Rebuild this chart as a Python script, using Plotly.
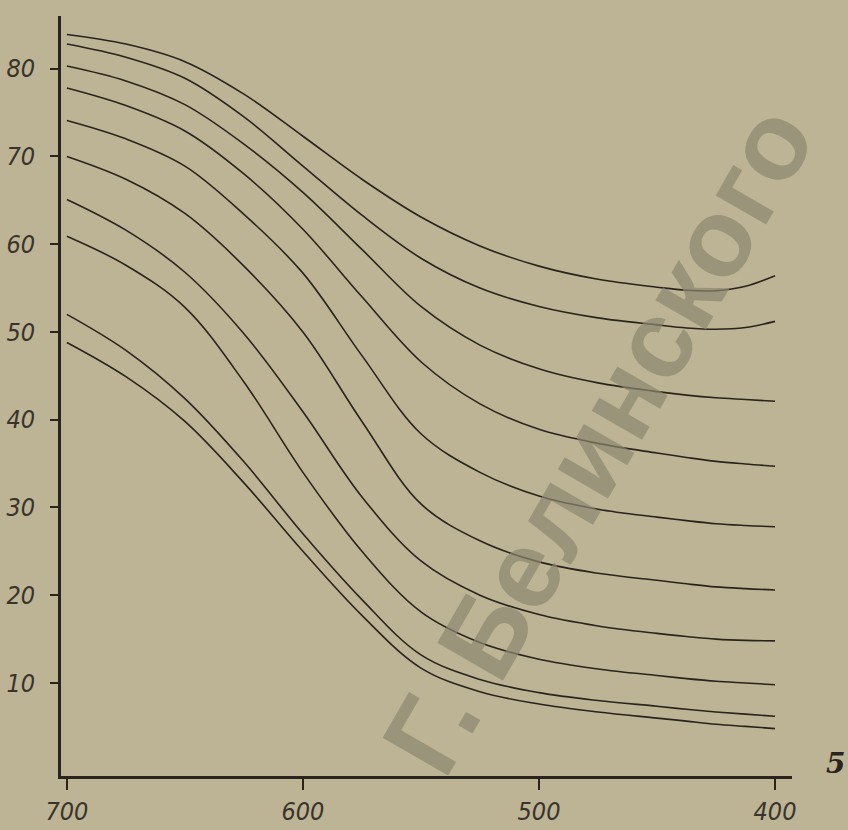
import plotly.graph_objects as go

# wavelength (nm)
wavelength = [700, 675, 650, 625, 600, 575, 550, 525, 500, 475, 450, 437.5, 425, 412.5, 400]

curve_1 = [83.9, 82.8, 80.8, 77.1, 72.3, 67.4, 63.1, 59.8, 57.5, 56.0, 55.1, 54.75, 54.7, 55.2, 56.4]
curve_2 = [82.8, 81.3, 78.9, 74.5, 68.9, 63.3, 58.4, 55.0, 52.9, 51.6, 50.8, 50.45, 50.3, 50.5, 51.2]
curve_3 = [80.3, 78.6, 75.9, 71.4, 65.9, 59.4, 52.9, 48.5, 45.8, 44.2, 43.2, 42.8, 42.5, 42.3, 42.1]
curve_4 = [77.8, 75.8, 72.9, 68.0, 61.7, 54.0, 46.6, 41.8, 38.9, 37.3, 36.2, 35.7, 35.25, 34.95, 34.7]
curve_5 = [74.1, 72.0, 68.9, 63.4, 56.7, 47.3, 38.4, 34.0, 31.3, 29.8, 28.9, 28.5, 28.15, 27.95, 27.8]
curve_6 = [70.0, 67.4, 63.5, 57.5, 50.0, 39.8, 30.4, 26.2, 23.8, 22.5, 21.7, 21.3, 20.95, 20.75, 20.6]
curve_7 = [65.1, 61.6, 56.8, 49.8, 40.9, 31.2, 23.9, 20.0, 17.8, 16.5, 15.65, 15.3, 15.0, 14.85, 14.8]
curve_8 = [60.9, 57.6, 52.8, 44.3, 34.0, 25.0, 18.1, 14.6, 12.7, 11.6, 10.85, 10.5, 10.2, 10.0, 9.8]
curve_9 = [52.0, 47.9, 42.4, 35.2, 27.0, 19.5, 13.2, 10.4, 8.9, 8.0, 7.35, 7.0, 6.7, 6.45, 6.2]
curve_10 = [48.8, 44.9, 39.8, 32.8, 25.0, 17.7, 11.7, 9.0, 7.6, 6.7, 6.0, 5.65, 5.3, 5.05, 4.8]

curves = [curve_1, curve_2, curve_3, curve_4, curve_5,
          curve_6, curve_7, curve_8, curve_9, curve_10]

x_tick_vals = [700, 600, 500, 400]
x_tick_text = ["700", "600", "500", "400"]
y_tick_vals = [10, 20, 30, 40, 50, 60, 70, 80]
y_tick_text = ["10", "20", "30", "40", "50", "60", "70", "80"]

paper = "#bcb494"
ink = "#2b241e"
tick_font = dict(family="Liberation Sans Narrow, DejaVu Sans Condensed, Arial Narrow, Liberation Sans, sans-serif",
                 size=25, color="#3a332b", style="italic")

fig = go.Figure()
for c in curves:
    fig.add_trace(go.Scatter(
        x=wavelength, y=c, mode="lines",
        line=dict(color=ink, width=1.6, shape="spline", smoothing=1.0),
        showlegend=False, hoverinfo="skip"))

fig.update_layout(
    width=848, height=830,
    margin=dict(l=61, r=56, t=16, b=54, autoexpand=False),
    paper_bgcolor=paper, plot_bgcolor=paper,
    showlegend=False,
)

fig.update_xaxes(
    range=[702.5, 392.8], automargin=False,
    showgrid=False, zeroline=False,
    showline=True, linecolor=ink, linewidth=3,
    ticks="outside", ticklen=11, tickwidth=2, tickcolor=ink,
    tickvals=x_tick_vals, ticktext=x_tick_text,
    tickfont=tick_font, ticklabelstandoff=0,
)
fig.update_yaxes(
    range=[-0.6, 86.0], automargin=False,
    showgrid=False, zeroline=False,
    showline=True, linecolor=ink, linewidth=3,
    ticks="outside", ticklen=8, tickwidth=2, tickcolor=ink,
    tickvals=y_tick_vals, ticktext=y_tick_text,
    tickfont=tick_font, ticklabelstandoff=10,
)

fig.add_annotation(
    text="5", xref="paper", yref="paper", x=1.06, y=0.017,
    showarrow=False, xanchor="center", yanchor="middle",
    font=dict(family="DejaVu Serif, Liberation Serif, serif", size=28,
              color="#2b241e", style="italic", weight="bold"))

fig.add_annotation(
    text="Г. Белинского", xref="paper", yref="paper",
    x=(598 - 61) / 731, y=(776 - 440) / 760,
    showarrow=False, textangle=-60,
    xanchor="center", yanchor="middle",
    font=dict(family="Liberation Sans, Arial, sans-serif", size=110,
              color="rgba(140,134,112,0.7)", weight="bold"))

fig.write_html("out.html", config={"displayModeBar": False},
               post_script="document.body.style.margin='0px';")
